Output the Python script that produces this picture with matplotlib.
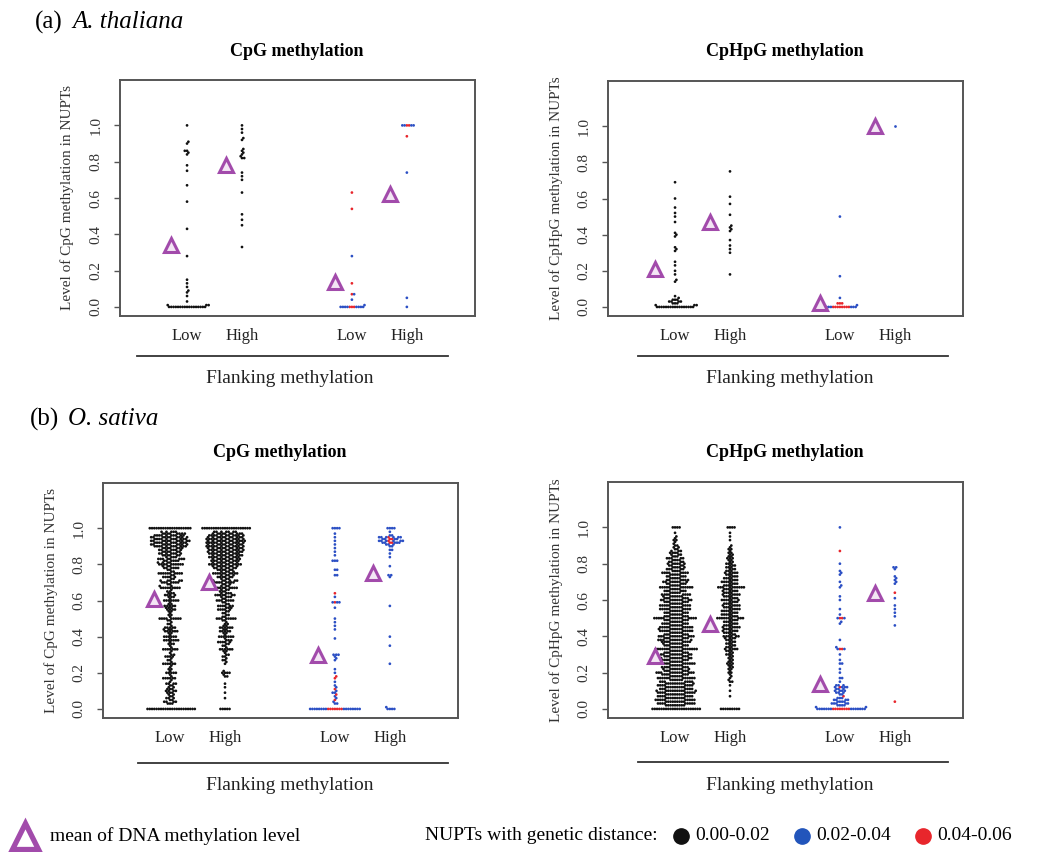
import numpy as np
import matplotlib
matplotlib.use("Agg")
import matplotlib.pyplot as plt
from matplotlib.lines import Line2D

plt.rcParams['font.family'] = ['Liberation Serif', 'DejaVu Serif']

W, H, DPI = 1054, 852, 100

# ---------------- data ----------------
group_labels = ["Low", "High", "Low", "High"]
positions = [1, 2, 4, 5]

GRID = [0.00, 0.01, 0.02, 0.03, 0.04, 0.05, 0.06, 0.07, 0.08, 0.09,
        0.10, 0.11, 0.12, 0.13, 0.14, 0.15, 0.16, 0.17, 0.18, 0.19,
        0.20, 0.21, 0.22, 0.23, 0.24, 0.25, 0.26, 0.27, 0.28, 0.29,
        0.30, 0.31, 0.32, 0.33, 0.34, 0.35, 0.36, 0.37, 0.38, 0.39,
        0.40, 0.41, 0.42, 0.43, 0.44, 0.45, 0.46, 0.47, 0.48, 0.49,
        0.50, 0.51, 0.52, 0.53, 0.54, 0.55, 0.56, 0.57, 0.58, 0.59,
        0.60, 0.61, 0.62, 0.63, 0.64, 0.65, 0.66, 0.67, 0.68, 0.69,
        0.70, 0.71, 0.72, 0.73, 0.74, 0.75, 0.76, 0.77, 0.78, 0.79,
        0.80, 0.81, 0.82, 0.83, 0.84, 0.85, 0.86, 0.87, 0.88, 0.89,
        0.90, 0.91, 0.92, 0.93, 0.94, 0.95, 0.96, 0.97, 0.98, 0.99,
        1.00]

# (a) A. thaliana - CpG
at_cpg_low_k_v = [0.00, 0.01, 0.03, 0.06, 0.08, 0.09, 0.11, 0.13, 0.15, 0.28, 0.43,
                  0.58, 0.67, 0.75, 0.78, 0.84, 0.85, 0.86, 0.90, 0.91, 1.00]
at_cpg_low_k_n = [17, 3, 1, 1, 1, 1, 1, 1, 1, 1, 1, 1, 1, 1, 1, 1, 1, 2, 1, 1, 1]
at_cpg_high_k_v = [0.33, 0.45, 0.48, 0.51, 0.63, 0.70, 0.72, 0.74, 0.82, 0.83, 0.84,
                   0.85, 0.86, 0.87, 0.92, 0.93, 0.96, 0.98, 1.00]
at_cpg_high_k_n = [1, 1, 1, 1, 1, 1, 1, 1, 2, 1, 1, 1, 1, 1, 1, 1, 1, 1, 1]
at_cpg_low_b_v = [0.00, 0.01, 0.04, 0.07, 0.28]
at_cpg_low_b_n = [8, 1, 1, 1, 1]
at_cpg_low_r_v = [0.00, 0.07, 0.13, 0.54, 0.63]
at_cpg_low_r_n = [3, 1, 1, 1, 1]
at_cpg_high_b_v = [0.00, 0.05, 0.74, 1.00]
at_cpg_high_b_n = [1, 1, 1, 4]
at_cpg_high_r_v = [0.94, 1.00]
at_cpg_high_r_n = [1, 2]
at_cpg_means = [0.34, 0.78, 0.14, 0.62]

# (a) A. thaliana - CpHpG
at_chg_low_k_v = [0.00, 0.01, 0.02, 0.03, 0.04, 0.05, 0.06, 0.14, 0.15, 0.18, 0.20,
                  0.23, 0.25, 0.31, 0.32, 0.33, 0.39, 0.40, 0.41, 0.47, 0.50, 0.52,
                  0.55, 0.60, 0.69]
at_chg_low_k_n = [17, 3, 3, 4, 3, 1, 1, 1, 1, 1, 1, 1, 1, 1, 1, 1, 1, 1, 1, 1, 1, 1, 1, 1, 1]
at_chg_high_k_v = [0.18, 0.30, 0.32, 0.34, 0.37, 0.42, 0.43, 0.44, 0.45, 0.51, 0.57,
                   0.61, 0.75]
at_chg_high_k_n = [1, 1, 1, 1, 1, 1, 1, 1, 1, 1, 1, 1, 1]
at_chg_low_b_v = [0.00, 0.01, 0.05, 0.17, 0.50]
at_chg_low_b_n = [7, 1, 1, 1, 1]
at_chg_low_r_v = [0.00, 0.02]
at_chg_low_r_n = [8, 3]
at_chg_high_b_v = [1.00]
at_chg_high_b_n = [1]
at_chg_means = [0.21, 0.47, 0.02, 1.00]

# (b) O. sativa - CpG  (counts on GRID)
os_cpg_low_k_n = [22, 0, 0, 3, 4, 2, 3, 2, 2, 3,
                  4, 3, 2, 2, 4, 1, 1, 6, 1, 1,
                  5, 1, 2, 1, 1, 6, 1, 2, 1, 4,
                  2, 1, 1, 7, 1, 1, 3, 1, 7, 1,
                  6, 1, 2, 6, 3, 5, 1, 2, 1, 2,
                  9, 1, 2, 1, 2, 4, 3, 5, 2, 1,
                  7, 1, 3, 4, 3, 2, 1, 9, 2, 2,
                  7, 5, 2, 5, 2, 10, 2, 2, 6, 3,
                  10, 4, 6, 8, 4, 6, 7, 6, 7, 7,
                  11, 10, 11, 11, 11, 10, 10, 8, 5, 0,
                  19]
os_cpg_high_k_n = [5, 0, 0, 0, 0, 0, 1, 0, 0, 1,
                   0, 0, 1, 0, 1, 0, 0, 0, 2, 1,
                   4, 1, 0, 0, 0, 1, 1, 2, 1, 2,
                   2, 1, 2, 6, 1, 2, 2, 5, 3, 1,
                   7, 1, 2, 5, 2, 6, 2, 2, 1, 2,
                   8, 2, 2, 2, 2, 5, 3, 6, 2, 2,
                   7, 2, 4, 7, 4, 3, 3, 9, 3, 3,
                   8, 6, 3, 6, 4, 10, 4, 6, 7, 8,
                   11, 8, 9, 9, 10, 10, 10, 11, 11, 11,
                   12, 11, 12, 12, 12, 11, 11, 10, 7, 0,
                   22]
os_cpg_low_b_v = [0.00, 0.03, 0.04, 0.06, 0.07, 0.09, 0.10, 0.12, 0.13, 0.15, 0.20,
                  0.22, 0.27, 0.28, 0.29, 0.30, 0.39, 0.44, 0.46, 0.48, 0.50, 0.56,
                  0.59, 0.62, 0.74, 0.77, 0.82, 0.85, 0.87, 0.89, 0.91, 0.93, 0.95,
                  0.97, 1.00]
os_cpg_low_b_n = [16, 2, 1, 1, 1, 2, 1, 1, 1, 1, 1, 1, 1, 1, 1, 3, 1, 1, 1, 1, 1, 1,
                  3, 1, 2, 2, 3, 1, 1, 1, 1, 1, 1, 1, 4]
os_cpg_low_r_v = [0.00, 0.05, 0.08, 0.11, 0.17, 0.18, 0.59, 0.64]
os_cpg_low_r_n = [7, 1, 1, 1, 1, 1, 1, 1]
os_cpg_high_b_v = [0.00, 0.01, 0.25, 0.35, 0.40, 0.57, 0.73, 0.74, 0.79, 0.84, 0.86,
                   0.88, 0.90, 0.91, 0.92, 0.93, 0.94, 0.95, 0.96, 0.98, 1.00]
os_cpg_high_b_n = [4, 1, 1, 1, 1, 1, 1, 2, 1, 1, 1, 2, 2, 3, 5, 6, 4, 6, 2, 1, 4]
os_cpg_high_r_v = [0.92, 0.93, 0.94, 0.95]
os_cpg_high_r_n = [2, 1, 2, 1]
os_cpg_means = [0.61, 0.70, 0.30, 0.75]

# (b) O. sativa - CpHpG
os_chg_low_k_n = [22, 0, 9, 9, 9, 10, 9, 8, 9, 9,
                  11, 7, 9, 8, 10, 7, 6, 12, 6, 7,
                  12, 6, 8, 7, 6, 12, 6, 7, 9, 6,
                  10, 6, 6, 14, 6, 6, 7, 8, 10, 6,
                  12, 6, 6, 10, 7, 10, 6, 7, 6, 6,
                  15, 6, 6, 6, 6, 9, 6, 9, 6, 6,
                  10, 6, 7, 8, 5, 6, 5, 11, 5, 5,
                  8, 6, 5, 5, 5, 8, 4, 5, 5, 4,
                  6, 4, 4, 5, 3, 3, 4, 3, 2, 2,
                  2, 1, 1, 2, 1, 1, 0, 1, 0, 0,
                  4]
os_chg_high_k_n = [9, 0, 0, 0, 0, 0, 0, 1, 0, 0,
                   1, 0, 0, 1, 0, 2, 1, 1, 1, 1,
                   2, 1, 2, 2, 2, 3, 2, 2, 2, 2,
                   3, 2, 3, 5, 3, 3, 3, 3, 3, 4,
                   6, 3, 4, 5, 4, 6, 4, 4, 4, 4,
                   10, 4, 5, 4, 5, 5, 4, 6, 4, 4,
                   6, 4, 4, 6, 4, 5, 4, 10, 4, 4,
                   5, 4, 4, 4, 3, 5, 3, 3, 3, 3,
                   3, 2, 2, 3, 2, 2, 2, 1, 2, 1,
                   1, 0, 0, 1, 0, 1, 0, 1, 0, 0,
                   4]
os_chg_low_b_v = [0.00, 0.01, 0.02, 0.03, 0.04, 0.05, 0.06, 0.08, 0.09, 0.10, 0.11,
                  0.12, 0.13, 0.15, 0.17, 0.20, 0.22, 0.25, 0.27, 0.30, 0.33, 0.34,
                  0.38, 0.47, 0.48, 0.50, 0.52, 0.55, 0.60, 0.62, 0.67, 0.68, 0.70,
                  0.74, 0.75, 0.76, 0.80, 1.00]
os_chg_low_b_n = [14, 2, 4, 5, 4, 4, 3, 2, 3, 4, 3, 4, 3, 1, 2, 1, 1, 2, 1, 1, 2, 1,
                  1, 1, 1, 2, 1, 1, 1, 1, 1, 1, 1, 1, 1, 1, 1, 1]
os_chg_low_r_v = [0.00, 0.07, 0.12, 0.33, 0.50, 0.87]
os_chg_low_r_n = [8, 1, 1, 2, 2, 1]
os_chg_high_b_v = [0.46, 0.51, 0.53, 0.55, 0.57, 0.61, 0.69, 0.70, 0.71, 0.72, 0.73,
                   0.77, 0.78]
os_chg_high_b_n = [1, 1, 1, 1, 1, 1, 1, 1, 1, 1, 1, 1, 2]
os_chg_high_r_v = [0.04, 0.64]
os_chg_high_r_n = [1, 1]
os_chg_means = [0.29, 0.47, 0.14, 0.64]

# ---------------- style ----------------
BLACK = "#111111"
BLUE = "#2b4fc4"
RED = "#e8262c"
PURPLE = "#a24bab"
AXC = "#555555"
COLOR_RANK = {RED: 0, BLUE: 1, BLACK: 2}

fig = plt.figure(figsize=(W / DPI, H / DPI), dpi=DPI)
fig.patch.set_facecolor("white")


def fx(px):
    return px / W


def fy(py):
    return 1 - py / H


def swarm(y_px, d):
    """Beeswarm 'swarm' layout: points placed in ascending order, each at the
    horizontal offset closest to the centre that does not overlap earlier ones."""
    px_list, py_list = [], []
    xs = np.zeros(len(y_px))
    for i, y in enumerate(y_px):
        cands = [0.0]
        near = []
        for k in range(len(py_list) - 1, -1, -1):
            qx, qy = px_list[k], py_list[k]
            dy = y - qy
            if dy >= d:
                break
            near.append((qx, qy))
            dx = np.sqrt(d * d - dy * dy)
            cands.append(qx + dx)
            cands.append(qx - dx)
        cands = sorted(set(np.round(cands, 6)), key=lambda c: (abs(c), -c))
        for c in cands:
            if all((c - qx) ** 2 + (y - qy) ** 2 >= d * d - 1e-6 for qx, qy in near):
                xs[i] = c
                break
        px_list.append(xs[i])
        py_list.append(y)
    return xs


def expand(vals, cnts, color):
    out = []
    for v, n in zip(vals, cnts):
        out += [(v, color)] * n
    return out


def panel(rect, groups, means, tri_off, title, title_xy, ylabel, ylabel_x,
          line_y, line_x, flank_xy):
    ax = fig.add_axes([fx(rect[0]), fy(rect[3]), fx(rect[2] - rect[0]),
                       (rect[3] - rect[1]) / H])
    x0, x1, y0, y1 = -0.22, 6.24, -0.05, 1.25
    ax.set_xlim(x0, x1)
    ax.set_ylim(y0, y1)
    ppx = (rect[2] - rect[0]) / (x1 - x0)
    ppy = (rect[3] - rect[1]) / (y1 - y0)
    d = 2.25
    for pos, pts in zip(positions, groups):
        pts = sorted(pts, key=lambda p: (p[0], COLOR_RANK[p[1]]))
        ys = np.array([p[0] for p in pts])
        cols = [p[1] for p in pts]
        xo = swarm(ys * ppy, d)
        ax.scatter(pos + xo / ppx, ys, s=3.8, c=cols, linewidths=0, zorder=3)
    ax.plot([p + tri_off for p in positions], means, ls="none", marker="^",
            ms=10, mec=PURPLE, mfc="#f3e6f4", mew=2.2, zorder=4, clip_on=False)
    ax.set_xticks(positions)
    ax.set_xticklabels(group_labels, fontsize=12)
    ax.tick_params(axis="x", length=0, pad=9, colors="#222222")
    ax.set_yticks([0.0, 0.2, 0.4, 0.6, 0.8, 1.0])
    ax.set_yticklabels(["0.0", "0.2", "0.4", "0.6", "0.8", "1.0"], fontsize=11,
                       rotation=90, va="center")
    ax.tick_params(axis="y", length=4.5, width=1, color=AXC, pad=8,
                   labelcolor="#333333")
    for s in ax.spines.values():
        s.set_color(AXC)
        s.set_linewidth(1.4)
    fig.text(fx(title_xy[0]), fy(title_xy[1]), title, fontsize=13,
             fontweight="bold", ha="center", va="center")
    fig.text(fx(ylabel_x), fy((rect[1] + rect[3]) / 2), ylabel, fontsize=11,
             rotation=90, ha="center", va="center", color="#333333")
    fig.add_artist(Line2D([fx(line_x[0]), fx(line_x[1])], [fy(line_y), fy(line_y)],
                          color="#333333", lw=1.3))
    fig.text(fx(flank_xy[0]), fy(flank_xy[1]), "Flanking methylation", fontsize=14,
             ha="center", va="center", color="#222222")
    return ax


# groups
at_cpg_groups = [
    expand(at_cpg_low_k_v, at_cpg_low_k_n, BLACK),
    expand(at_cpg_high_k_v, at_cpg_high_k_n, BLACK),
    expand(at_cpg_low_b_v, at_cpg_low_b_n, BLUE) + expand(at_cpg_low_r_v, at_cpg_low_r_n, RED),
    expand(at_cpg_high_b_v, at_cpg_high_b_n, BLUE) + expand(at_cpg_high_r_v, at_cpg_high_r_n, RED),
]
at_chg_groups = [
    expand(at_chg_low_k_v, at_chg_low_k_n, BLACK),
    expand(at_chg_high_k_v, at_chg_high_k_n, BLACK),
    expand(at_chg_low_b_v, at_chg_low_b_n, BLUE) + expand(at_chg_low_r_v, at_chg_low_r_n, RED),
    expand(at_chg_high_b_v, at_chg_high_b_n, BLUE),
]
os_cpg_groups = [
    expand(GRID, os_cpg_low_k_n, BLACK),
    expand(GRID, os_cpg_high_k_n, BLACK),
    expand(os_cpg_low_b_v, os_cpg_low_b_n, BLUE) + expand(os_cpg_low_r_v, os_cpg_low_r_n, RED),
    expand(os_cpg_high_b_v, os_cpg_high_b_n, BLUE) + expand(os_cpg_high_r_v, os_cpg_high_r_n, RED),
]
os_chg_groups = [
    expand(GRID, os_chg_low_k_n, BLACK),
    expand(GRID, os_chg_high_k_n, BLACK),
    expand(os_chg_low_b_v, os_chg_low_b_n, BLUE) + expand(os_chg_low_r_v, os_chg_low_r_n, RED),
    expand(os_chg_high_b_v, os_chg_high_b_n, BLUE) + expand(os_chg_high_r_v, os_chg_high_r_n, RED),
]

panel((120, 80, 475, 316), at_cpg_groups, at_cpg_means, -0.3, "CpG methylation",
      (297, 52), "Level of CpG methylation in NUPTs", 67, 356, (137, 448), (290, 378))
panel((608, 81, 963, 316), at_chg_groups, at_chg_means, -0.36, "CpHpG methylation",
      (785, 52), "Level of CpHpG methylation in NUPTs", 556, 356, (638, 948), (790, 378))
panel((103, 483, 458, 718), os_cpg_groups, os_cpg_means, -0.3, "CpG methylation",
      (280, 453), "Level of CpG methylation in NUPTs", 51, 763, (138, 448), (290, 785))
panel((608, 482, 963, 718), os_chg_groups, os_chg_means, -0.36, "CpHpG methylation",
      (785, 453), "Level of CpHpG methylation in NUPTs", 556, 762, (638, 948), (790, 785))

# panel labels
fig.text(fx(35), fy(22), "(a)", fontsize=18, ha="left", va="center")
fig.text(fx(72), fy(22), "A. thaliana", fontsize=18, style="italic", ha="left", va="center")
fig.text(fx(30), fy(419), "(b)", fontsize=18, ha="left", va="center")
fig.text(fx(68), fy(419), "O. sativa", fontsize=18, style="italic", ha="left", va="center")

# legend
LY = 836
fig.add_artist(Line2D([fx(25)], [fy(LY)], marker="^", ms=19, mec=PURPLE, mfc="white",
                      mew=3.8, ls="none"))
fig.text(fx(50), fy(LY), "mean of DNA methylation level", fontsize=14, ha="left", va="center")
fig.text(fx(425), fy(LY), "NUPTs with genetic distance:", fontsize=14, ha="left", va="center")
for cx, col, lab in [(681, BLACK, "0.00-0.02"), (802, "#2255bb", "0.02-0.04"),
                     (923, RED, "0.04-0.06")]:
    fig.add_artist(Line2D([fx(cx)], [fy(LY)], marker="o", ms=11, mec=col, mfc=col,
                          ls="none"))
    fig.text(fx(cx + 14), fy(LY), lab, fontsize=14, ha="left", va="center")

fig.savefig("out.png", dpi=DPI, facecolor="white")
